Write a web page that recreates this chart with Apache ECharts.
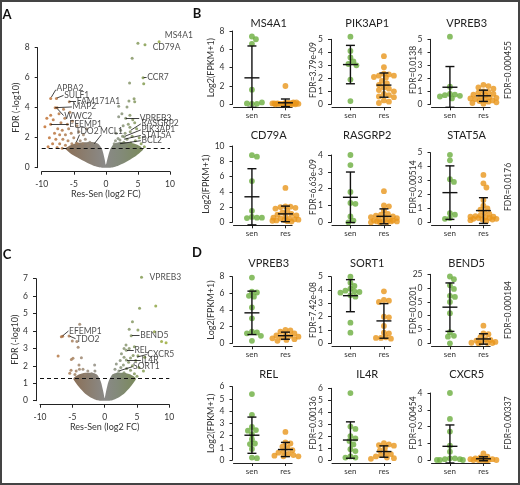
<!DOCTYPE html>
<html>
<head>
<meta charset="utf-8">
<script src="https://cdn.jsdelivr.net/npm/echarts@6/dist/echarts.min.js"></script>
<style>
  html, body { margin: 0; padding: 0; background: #fff; }
  #chart { width: 520px; height: 485px; }
</style>
</head>
<body>
<div id="chart"></div>
<script>
// ---------------- data ----------------
const groups = ['sen', 'res'];

// Panel A: volcano, points outside the dense grey cloud [log2FC, -log10 FDR]
const aPoints = [
  [8.3, 8.4], [6.1, 8.2], [5.0, 8.3], [4.1, 7.3], [5.8, 6.0], [3.7, 5.65], [5.9, 5.6],
  [4.4, 4.6], [4.5, 4.4], [3.6, 4.45], [2.0, 4.1], [3.3, 4.05], [3.1, 3.3], [2.0, 3.4],
  [2.5, 3.6], [4.2, 3.2], [3.75, 3.5], [3.75, 2.7], [3.0, 2.3], [2.85, 2.07], [2.2, 1.85],
  [4.5, 3.0], [3.5, 2.9], [2.7, 2.8], [4.8, 2.6], [2.3, 2.5], [3.8, 2.4], [1.6, 2.3],
  [4.1, 2.1], [2.6, 2.1], [5.2, 2.0], [1.9, 1.95], [3.3, 1.9], [4.6, 1.8], [1.5, 1.8],
  [2.8, 1.7], [3.9, 1.65], [5.5, 1.6], [1.3, 1.6], [2.4, 1.55], [4.3, 1.5], [6.0, 1.4],
  [1.2, 1.4], [3.6, 1.4],
  [-8.6, 4.62], [-7.7, 4.62], [-5.7, 4.4], [-7.9, 4.0], [-7.6, 4.0], [-8.6, 2.9],
  [-4.6, 1.65], [-1.8, 1.6], [-9.5, 2.73], [-9.2, 3.3], [-8.6, 3.5], [-8.2, 3.2],
  [-7.0, 3.0], [-6.4, 3.3], [-6.0, 2.9], [-5.2, 3.1], [-7.5, 2.6], [-6.8, 2.5],
  [-5.8, 2.6], [-4.5, 2.8], [-8.0, 2.3], [-7.2, 2.2], [-6.3, 2.2], [-5.4, 2.3],
  [-4.2, 2.4], [-3.5, 2.2], [-8.8, 2.0], [-7.8, 1.9], [-6.7, 1.9], [-5.9, 1.8],
  [-5.0, 2.0], [-4.0, 1.8], [-3.2, 1.9], [-2.5, 1.7], [-8.3, 1.6], [-7.2, 1.6],
  [-6.3, 1.5], [-5.3, 1.6], [-4.4, 1.6], [-3.6, 1.6], [-2.8, 1.5], [-2.1, 1.6],
  [-9.0, 1.4], [-7.6, 1.35], [-6.8, 1.3], [-1.5, 1.4], [-3.0, 2.6], [-6.6, 3.9],
  [-5.6, 3.7], [-7.3, 3.6]
];
const aCloudX      = [-6.3, -5.5, -4.5, -3, -2, -1.2, -0.6, -0.2, 0, 0.25, 0.7, 1.3, 2, 3, 4.5, 5.3, 5.8];
const aCloudTop    = [1.3, 1.5, 1.65, 1.7, 1.7, 1.6, 1.25, 0.6, 0.2, 0.6, 1.25, 1.6, 1.7, 1.7, 1.6, 1.45, 1.25];
const aCloudBottom = [1.25, 0.95, 0.7, 0.35, 0.15, 0.05, 0, 0, 0, 0, 0, 0.05, 0.15, 0.35, 0.73, 1.0, 1.2];
const aLabels = [
  ['MS4A1', 9.2, 8.85], ['CD79A', 7.3, 8.05], ['CCR7', 6.45, 6.0], ['VPREB3', 5.3, 3.3],
  ['RASGRP2', 5.55, 2.96], ['PIK3AP1', 5.55, 2.56], ['STAT5A', 5.55, 2.18], ['BCL2', 5.55, 1.8],
  ['APBA2', -7.7, 5.3], ['SULF1', -6.5, 4.85], ['FAM171A1', -4.55, 4.45], ['MAP2', -5.2, 4.07],
  ['WWC2', -6.5, 3.45], ['EFEMP1', -5.7, 2.9], ['TDO2', -4.75, 2.45], ['MCL1', -0.9, 2.45]
];
const aLeaders = [
  [8.4, 8.5, 9.1, 8.8], [6.3, 8.2, 7.2, 8.08], [5.9, 6.0, 6.35, 6.0], [3.1, 3.3, 5.2, 3.3],
  [3.9, 2.5, 5.45, 2.92], [3.0, 2.1, 5.45, 2.52], [2.85, 1.9, 5.45, 2.15], [2.2, 1.6, 5.45, 1.8],
  [-8.5, 4.7, -7.8, 5.2], [-7.6, 4.65, -6.6, 4.82], [-5.7, 4.4, -4.65, 4.42], [-7.9, 4.0, -5.3, 4.05],
  [-7.6, 3.95, -6.6, 3.48], [-8.6, 2.9, -5.8, 2.9], [-4.1, 2.2, -4.6, 1.7], [-0.7, 2.2, -1.8, 1.6]
];

// Panel C: volcano
const cPoints = [
  [5.7, 7.08], [5.4, 5.3], [7.9, 5.43], [4.3, 4.53], [5.15, 4.06], [3.8, 4.1], [4.1, 3.73],
  [7.7, 3.96], [8.8, 3.39], [9.5, 3.33], [3.35, 2.9], [5.15, 2.58], [3.35, 2.33], [2.2, 1.7],
  [3.0, 3.0], [3.8, 3.0], [2.6, 2.7], [4.4, 2.6], [3.0, 2.5], [4.0, 2.45], [4.8, 2.3],
  [2.4, 2.3], [3.7, 2.2], [1.8, 2.1], [2.9, 2.05], [4.3, 2.0], [5.3, 1.9], [2.5, 1.9],
  [3.4, 1.85], [1.6, 1.8], [4.0, 1.75], [6.0, 1.7], [3.0, 1.6], [2.0, 1.55], [4.6, 1.55],
  [3.6, 1.45], [1.4, 1.45], [2.7, 1.4], [5.0, 1.4], [6.2, 2.5], [3.3, 3.2], [4.6, 3.1],
  [-6.7, 3.67], [-6.5, 3.7], [-5.5, 3.71], [-3.86, 4.38], [-5.0, 3.43], [-7.2, 2.56],
  [-4.1, 3.06], [-3.6, 2.47], [-5.15, 2.37], [-4.9, 2.43], [-3.97, 2.05], [-5.2, 1.75],
  [-4.4, 1.7], [-3.9, 1.8], [-3.35, 1.8], [-1.55, 2.05], [-2.6, 1.7], [-5.4, 1.57],
  [-4.6, 1.5], [-2.0, 1.55], [-3.0, 1.5], [-1.5, 1.7], [-4.3, 3.4], [-1.8, 1.45]
];
const cCloudX      = [-4.8, -4, -3, -2, -1.2, -0.6, -0.2, 0, 0.2, 0.6, 1.2, 2, 3, 4, 4.8];
const cCloudTop    = [1.3, 1.5, 1.6, 1.6, 1.5, 1.1, 0.5, 0.15, 0.5, 1.1, 1.5, 1.6, 1.6, 1.5, 1.3];
const cCloudBottom = [1.2, 0.8, 0.4, 0.15, 0.03, 0, 0, 0, 0, 0, 0.03, 0.15, 0.4, 0.8, 1.2];
const cLabels = [
  ['VPREB3', 6.95, 7.08], ['EFEMP1', -5.5, 4.0], ['TDO2', -4.4, 3.54], ['BEND5', 5.5, 3.73],
  ['REL', 4.6, 2.9], ['CXCR5', 6.6, 2.65], ['IL4R', 5.7, 2.33], ['SORT1', 4.4, 1.95]
];
const cLeaders = [
  [5.9, 7.08, 6.7, 7.08], [-6.5, 3.72, -5.6, 4.0], [-5.4, 3.7, -4.5, 3.56], [4.2, 3.73, 5.4, 3.73],
  [3.45, 2.9, 4.5, 2.92], [5.0, 2.5, 6.5, 2.65], [3.45, 2.33, 5.6, 2.33], [2.3, 1.72, 4.3, 1.95]
];

// Panels B and D: log2(FPKM+1) per sample
const ms4a1Sen   = [7.4, 7.1, 6.6, 1.6, 0.05, 0.05, 0.1, 0.2];
const ms4a1Res   = [2.0, 0.15, 0.1, 0.05, 0, 0, 0.05, 0.1, 0.2, 0.1, 0, 0.05, 0.15, 0.1, 0, 0.05, 0.1, 0.2, 0.05, 0, 0.1, 0.05];
const pik3ap1Sen = [5.2, 4.1, 3.6, 3.3, 3.1, 3.0, 1.9, 0.25];
const pik3ap1Res = [3.7, 2.85, 2.35, 2.3, 2.2, 2.2, 2.1, 2.05, 1.8, 1.6, 1.5, 1.3, 1.2, 1.1, 1.0, 0.8, 0.7, 0.6, 0.55, 0.3, 0.2, 0.1];
const vpreb3SenB = [5.2, 1.35, 0.8, 0.75, 0.7, 0.65, 0.6, 0.45];
const vpreb3ResB = [1.5, 1.4, 1.3, 1.2, 1.0, 0.95, 0.9, 0.8, 0.75, 0.7, 0.6, 0.55, 0.5, 0.45, 0.4, 0.35, 0.3, 0.25, 0.2, 0.15, 0.1, 0.05];
const cd79aSen   = [8.8, 8.6, 5.4, 1.5, 0.7, 0.6, 0.55, 0.6];
const cd79aRes   = [4.5, 2.1, 2.05, 2.0, 1.9, 1.8, 1.5, 1.3, 1.1, 1.0, 0.9, 0.8, 0.6, 0.5, 0.45, 0.4, 0.35, 0.3, 0.25, 0.2, 0.15, 0.1];
const rasgrp2Sen = [4.0, 3.4, 1.8, 1.15, 1.1, 0.35, 0.1, 0.0];
const rasgrp2Res = [1.85, 1.0, 0.95, 0.7, 0.5, 0.45, 0.4, 0.35, 0.3, 0.3, 0.25, 0.2, 0.15, 0.1, 0.1, 0.05, 0.05, 0.05, 0.0, 0.0, 0.0, 0.05];
const stat5aSen  = [4.85, 4.45, 3.1, 2.9, 0.65, 0.55, 0.3, 0.25];
const stat5aRes  = [3.4, 2.8, 2.5, 1.6, 1.2, 1.0, 0.9, 0.7, 0.6, 0.5, 0.45, 0.4, 0.4, 0.35, 0.3, 0.3, 0.25, 0.25, 0.2, 0.2, 0.15, 0.1];

const vpreb3SenD = [7.9, 6.2, 6.1, 5.7, 5.6, 4.3, 3.0, 1.4, 1.3, 1.2, 0.9, 0.3];
const vpreb3ResD = [1.6, 1.55, 1.4, 1.2, 1.0, 0.95, 0.9, 0.8, 0.7, 0.6, 0.5, 0.4, 0.3];
const sort1Sen   = [5.0, 4.55, 4.3, 4.1, 3.95, 3.9, 3.85, 3.8, 3.6, 3.5, 1.55, 0.8];
const sort1Res   = [3.9, 3.25, 3.2, 3.1, 2.0, 1.95, 1.3, 0.8, 0.75, 0.45, 0.4, 0.35, 0.4];
const bend5Sen   = [24.2, 23.2, 21.0, 19.7, 17.2, 16.8, 15.0, 10.9, 4.0, 2.7, 2.4, 0.0];
const bend5Res   = [6.4, 3.6, 3.3, 2.2, 1.5, 1.2, 1.0, 0.5, 0.3, 0.2, 0.1, 0.1, 0.05];
const relSen     = [5.4, 3.7, 2.7, 2.45, 2.4, 2.1, 1.7, 1.35, 1.3, 0.9, 0.2, 0.15];
const relRes     = [2.3, 1.45, 1.35, 1.1, 1.0, 0.8, 0.7, 0.6, 0.5, 0.4, 0.35, 0.3, 0.3];
const il4rSen    = [5.6, 2.8, 2.6, 2.0, 1.8, 1.6, 1.3, 0.9, 0.75, 0.3, 0.2, 0.2];
const il4rRes    = [1.4, 1.3, 1.25, 1.2, 1.0, 0.8, 0.6, 0.5, 0.4, 0.3, 0.2, 0.15, 0.1];
const cxcr5Sen   = [4.0, 2.45, 1.7, 0.85, 0.5, 0.1, 0.1, 0.05, 0.05, 0.0, 0.0, 0.0];
const cxcr5Res   = [0.4, 0.2, 0.15, 0.1, 0.05, 0.05, 0.0, 0.0, 0.0, 0.0, 0.0, 0.0, 0.0];

const genes  = ['MS4A1', 'PIK3AP1', 'VPREB3', 'CD79A', 'RASGRP2', 'STAT5A',
                'VPREB3', 'SORT1', 'BEND5', 'REL', 'IL4R', 'CXCR5'];
const senVals = [ms4a1Sen, pik3ap1Sen, vpreb3SenB, cd79aSen, rasgrp2Sen, stat5aSen,
                 vpreb3SenD, sort1Sen, bend5Sen, relSen, il4rSen, cxcr5Sen];
const resVals = [ms4a1Res, pik3ap1Res, vpreb3ResB, cd79aRes, rasgrp2Res, stat5aRes,
                 vpreb3ResD, sort1Res, bend5Res, relRes, il4rRes, cxcr5Res];
const fdrText = ['FDR=3.79e-09', 'FDR=0.0138', 'FDR=0.000455', 'FDR=6.63e-09', 'FDR=0.00514', 'FDR=0.0176',
                 'FDR=7.42e-08', 'FDR=0.0201', 'FDR=0.000184', 'FDR=0.00136', 'FDR=0.00454', 'FDR=0.00337'];
const yMax  = [8, 5, 5, 10, 4, 5, 8, 5, 25, 6, 6, 4];
const yStep = [2, 1, 1, 2, 1, 1, 2, 1, 5, 1, 1, 1];

// ---------------- layout ----------------
const FONT = 'Lato, "Open Sans", sans-serif';
const INK = '#222';
const GREEN = '#6cae3e';
const ORANGE = '#e8961c';
const colAxisX = [232.5, 331, 430.5];
const rowZeroY = [104.3, 222.3, 343.3, 460];
const rowTitleY = [23, 135, 263, 374];
const plotTopY = [31, 39.3, 39.3, 146, 155, 152.7, 276.7, 276.7, 274.3, 386.7, 388.3, 393];
const fdrX = [313, 413, 508];
const fdrMidY = [70, 187, 310, 423];
const CAT_PX = 33.5;      // px per category unit
const X_MIN = 0.45, X_MAX = 2.2;

const chart = echarts.init(document.getElementById('chart'));

const grid = [], xAxis = [], yAxis = [], series = [], graphic = [];
const axisCommon = {
  axisLine: { show: true, onZero: false, lineStyle: { color: INK, width: 1 } },
  axisTick: { show: true, length: 3, lineStyle: { color: INK, width: 1 } },
  splitLine: { show: false },
  axisLabel: { color: '#333', fontSize: 8.5, fontFamily: FONT },
  nameTextStyle: { color: '#333', fontSize: 9, fontFamily: FONT }
};

function cloudSeries(idx, xs, top, bottom) {
  return {
    type: 'custom', xAxisIndex: idx, yAxisIndex: idx, z: 1, silent: true,
    data: [0],
    renderItem: function (params, api) {
      const pts = [];
      xs.forEach((x, i) => pts.push(api.coord([x, top[i]])));
      for (let i = xs.length - 1; i >= 0; i--) pts.push(api.coord([xs[i], bottom[i]]));
      return {
        type: 'polygon',
        shape: { points: pts, smooth: 0.25 },
        style: {
          fill: new echarts.graphic.LinearGradient(0, 0, 1, 0, [
            { offset: 0, color: '#8b7058' },
            { offset: 0.3, color: '#8a8074' },
            { offset: 0.5, color: '#8a8987' },
            { offset: 0.7, color: '#838a7a' },
            { offset: 1, color: '#7b8a5c' }
          ])
        }
      };
    }
  };
}

function volcano(idx, g, yMaxV, yStepV, pts, cx, ct, cb, labels, leaders) {
  grid.push(g);
  xAxis.push(Object.assign({}, axisCommon, {
    gridIndex: idx, type: 'value', min: -10, max: 10, interval: 5, offset: 4,
    name: 'Res-Sen (log2 FC)', nameLocation: 'middle', nameGap: 17
  }));
  yAxis.push(Object.assign({}, axisCommon, {
    gridIndex: idx, type: 'value', min: 0, max: yMaxV, interval: yStepV, offset: 4,
    name: 'FDR (-log10)', nameLocation: 'middle', nameGap: 16
  }));
  series.push(cloudSeries(idx, cx, ct, cb));
  series.push({
    type: 'scatter', xAxisIndex: idx, yAxisIndex: idx, z: 2, clip: false,
    symbolSize: 3, data: pts,
    markLine: {
      silent: true, symbol: 'none', label: { show: false },
      lineStyle: { color: '#111', type: [4, 3], width: 1 },
      data: [{ yAxis: 1.3 }]
    }
  });
  series.push({
    type: 'lines', coordinateSystem: 'cartesian2d', xAxisIndex: idx, yAxisIndex: idx, z: 3,
    lineStyle: { color: '#111', width: 0.8, opacity: 1 },
    data: leaders.map(l => ({ coords: [[l[0], l[1]], [l[2], l[3]]] }))
  });
  series.push({
    type: 'scatter', xAxisIndex: idx, yAxisIndex: idx, z: 4, clip: false, symbolSize: 0,
    label: {
      show: true, position: 'right', distance: 0, formatter: '{b}',
      color: INK, fontSize: 8.5, fontFamily: FONT
    },
    data: labels.map(l => ({ name: l[0], value: [l[1], l[2]] }))
  });
}

volcano(0, { left: 41.7, top: 47.7, width: 128.3, height: 120 }, 8, 2, aPoints, aCloudX, aCloudTop, aCloudBottom, aLabels, aLeaders);
volcano(1, { left: 40, top: 278.7, width: 129.3, height: 122 }, 7, 1, cPoints, cCloudX, cCloudTop, cCloudBottom, cLabels, cLeaders);

// beeswarm layout of a group's values around its category centre
function swarm(vals, center, pxPerUnit) {
  const d = 4.8, half = 13;
  const placed = [];
  return vals.map(v => {
    const py = v * pxPerUnit;
    let best = 0, bestScore = -1;
    for (let k = 0; k <= 2 * half; k++) {
      const off = (k % 2 ? 1 : -1) * Math.ceil(k / 2);
      let minD = Infinity;
      placed.forEach(p => { minD = Math.min(minD, Math.hypot(p[0] - off, p[1] - py)); });
      if (minD >= d) { best = off; bestScore = Infinity; break; }
      if (minD > bestScore) { bestScore = minD; best = off; }
    }
    placed.push([best, py]);
    return [center + best / CAT_PX, v];
  });
}

function meanSd(vals) {
  const m = vals.reduce((a, b) => a + b, 0) / vals.length;
  const s = Math.sqrt(vals.reduce((a, b) => a + (b - m) * (b - m), 0) / (vals.length - 1));
  return [m, s];
}

genes.forEach((gene, i) => {
  const idx = i + 2;
  const col = i % 3, row = Math.floor(i / 3);
  const zero = rowZeroY[row], top = plotTopY[i];
  const left = colAxisX[col] + 1;
  grid.push({ left: left, top: top, width: (X_MAX - X_MIN) * CAT_PX, height: zero - top });
  xAxis.push(Object.assign({}, axisCommon, {
    gridIndex: idx, type: 'value', min: X_MIN, max: X_MAX, offset: 3,
    axisTick: { show: true, length: 3, lineStyle: { color: INK }, customValues: [1, 2] },
    axisLabel: Object.assign({}, axisCommon.axisLabel, {
      customValues: [1, 2], margin: 4, fontSize: 8,
      formatter: v => groups[Math.round(v) - 1]
    })
  }));
  yAxis.push(Object.assign({}, axisCommon, {
    gridIndex: idx, type: 'value', min: 0, max: yMax[i], interval: yStep[i], offset: 1,
    name: col === 0 ? 'Log2(FPKM+1)' : '', nameLocation: 'middle', nameGap: 17
  }));
  const pxPerUnit = (zero - top) / yMax[i];
  series.push({
    type: 'scatter', xAxisIndex: idx, yAxisIndex: idx, clip: false, z: 2,
    symbolSize: 5.8, itemStyle: { color: GREEN },
    data: swarm(senVals[i], 1, pxPerUnit)
  });
  series.push({
    type: 'scatter', xAxisIndex: idx, yAxisIndex: idx, clip: false, z: 2,
    symbolSize: 5.8, itemStyle: { color: ORANGE },
    data: swarm(resVals[i], 2, pxPerUnit)
  });
  const stats = [senVals[i], resVals[i]].map((v, k) => [k + 1].concat(meanSd(v)));
  series.push({
    type: 'custom', xAxisIndex: idx, yAxisIndex: idx, z: 5, silent: true,
    data: stats,
    renderItem: function (params, api) {
      const x = api.value(0), m = api.value(1), s = api.value(2);
      const c = api.coord([x, m]);
      const t = api.coord([x, m + s]);
      const floor = params.coordSys.y + params.coordSys.height + 3;
      const b = Math.min(api.coord([x, m - s])[1], floor);
      const st = { stroke: '#111', lineWidth: 1.4 };
      return {
        type: 'group', children: [
          { type: 'line', shape: { x1: c[0], y1: t[1], x2: c[0], y2: b }, style: st },
          { type: 'line', shape: { x1: c[0] - 4.5, y1: t[1], x2: c[0] + 4.5, y2: t[1] }, style: st },
          { type: 'line', shape: { x1: c[0] - 4.5, y1: b, x2: c[0] + 4.5, y2: b }, style: st },
          { type: 'line', shape: { x1: c[0] - 7.5, y1: c[1], x2: c[0] + 7.5, y2: c[1] }, style: st }
        ]
      };
    }
  });
  // gene title
  graphic.push({
    type: 'text', x: left + (1.5 - X_MIN) * CAT_PX, y: rowTitleY[row],
    style: { text: gene, fill: INK, font: '11px ' + FONT, align: 'center', verticalAlign: 'middle' }
  });
  // FDR annotation (white box, as in the original it covers overlapping tick digits)
  graphic.push({
    type: 'text', x: fdrX[col], y: fdrMidY[row], rotation: Math.PI / 2, z: 100,
    style: {
      text: fdrText[i], fill: '#333', font: '8.5px ' + FONT, align: 'center', verticalAlign: 'middle',
      backgroundColor: '#fff', padding: [0, 2]
    }
  });
});

// panel letters and frame
[['A', 7, 15], ['B', 197, 14], ['C', 7, 255], ['D', 197, 253]].forEach(p => {
  graphic.push({
    type: 'text', x: p[1], y: p[2],
    style: { text: p[0], fill: '#111', font: 'bold 13px ' + FONT, align: 'center', verticalAlign: 'middle' }
  });
});
graphic.push({
  type: 'rect', shape: { x: 1, y: 1, width: 518, height: 483 },
  style: { fill: 'none', stroke: '#444', lineWidth: 2 }, silent: true
});

chart.setOption({
  animation: false,
  backgroundColor: '#fff',
  textStyle: { fontFamily: FONT },
  grid: grid,
  xAxis: xAxis,
  yAxis: yAxis,
  visualMap: {
    show: false, type: 'continuous', dimension: 0, min: -10, max: 10, seriesIndex: [1, 5],
    inRange: { color: ['#c4661f', '#a87447', '#8c857a', '#808a74', '#7c9645', '#9aaa2c'] }
  },
  series: series,
  graphic: graphic
});
</script>
</body>
</html>
